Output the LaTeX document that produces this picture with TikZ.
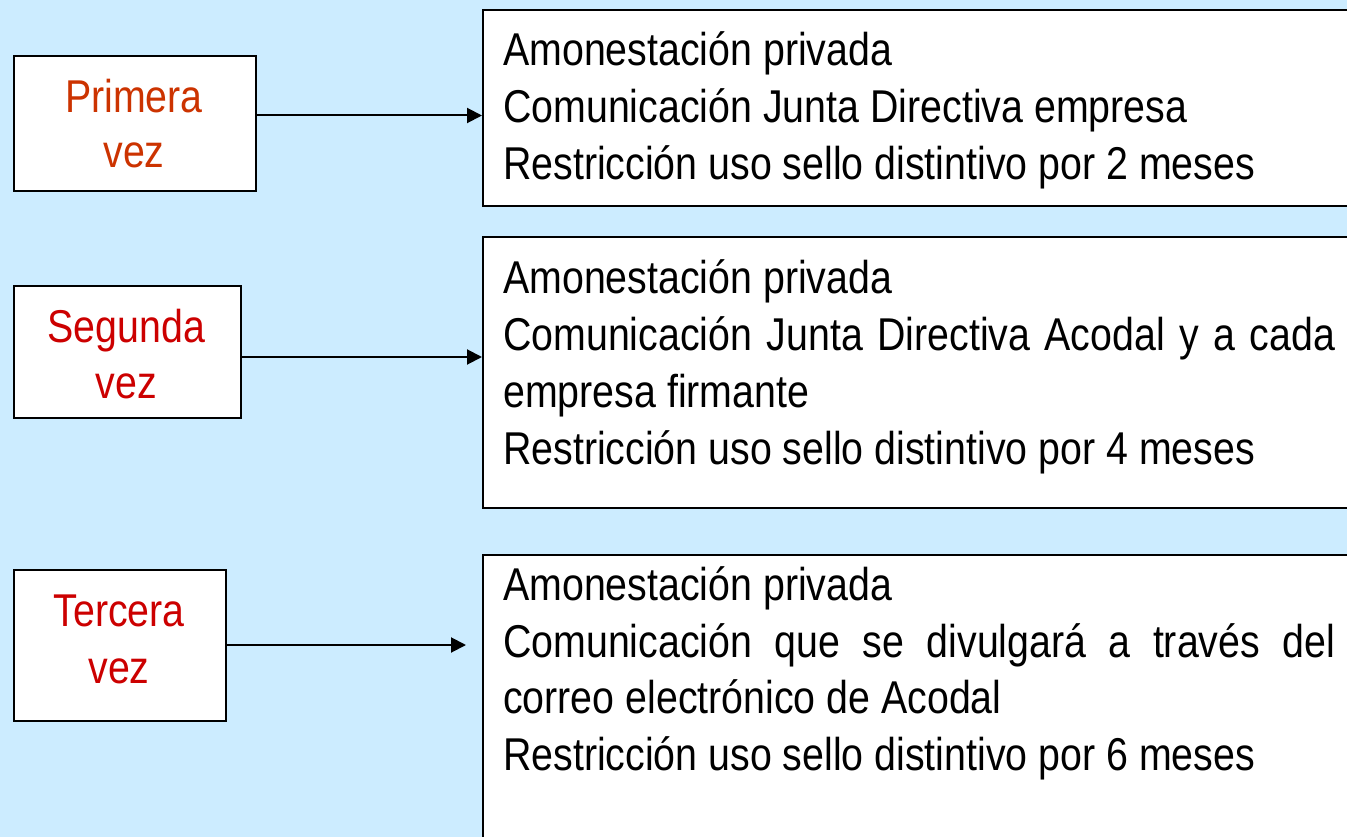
\documentclass[tikz,border=0pt]{standalone}
\usepackage{fontspec}
\setmainfont{Liberation Sans}[FakeStretch=0.855]
\usetikzlibrary{arrows.meta}
\definecolor{bgblue}{HTML}{CCECFF}
\definecolor{firstred}{HTML}{CC3300}
\definecolor{otherred}{HTML}{CC0000}
\tikzset{
  every node/.style={font=\fontsize{46}{57}\selectfont},
  leftbox/.style={draw=black, line width=2pt, fill=white, anchor=north west, inner sep=0pt, align=center},
  rightbox/.style={draw=black, line width=2pt, fill=white, anchor=north west, inner sep=0pt},
  bodytext/.style={anchor=base west, inner sep=0pt, align=left, text=black},
  vlabel/.style={anchor=base, inner sep=0pt},
  link/.style={line width=2pt, -{Triangle[length=15pt,width=15pt]}}
}
\begin{document}
\begin{tikzpicture}[x=1pt,y=-1pt]
\useasboundingbox (0,0) rectangle (1347,837);
\clip (0,0) rectangle (1347,837);
\fill[bgblue] (0,0) rectangle (1347,837);

% left boxes
\node[leftbox, minimum width=242pt, minimum height=135pt] (p) at (13,55) {};
\node[vlabel, text=firstred] (pt) at (134,113) {Primera};
\node[vlabel, text=firstred] (pv) at (134,168) {vez};

\node[leftbox, minimum width=227pt, minimum height=132pt] (s) at (13,285) {};
\node[vlabel, text=otherred] (st) at (126.5,342) {Segunda};
\node[vlabel, text=otherred] (sv) at (126.5,398) {vez};

\node[leftbox, minimum width=212pt, minimum height=151pt] (t) at (13,569) {};
\node[vlabel, text=otherred] (tt) at (119,626) {Tercera};
\node[vlabel, text=otherred] (tv) at (119,683) {vez};

% right boxes
\node[rightbox, minimum width=900pt, minimum height=196pt] (r1) at (482,9) {};
\node[rightbox, minimum width=900pt, minimum height=271pt] (r2) at (482,236) {};
\node[rightbox, minimum width=900pt, minimum height=320pt] (r3) at (482,554) {};

\node[bodytext] (a1) at (503,66) {Amonestación privada};
\node[bodytext] (b1) at (503,123) {Comunicación Junta Directiva empresa};
\node[bodytext] (c1) at (503,180) {Restricción uso sello distintivo por 2 meses};

\node[bodytext] (a2) at (503,293) {Amonestación privada};
\node[bodytext] (b2) at (503,350) {\makebox[832pt][s]{Comunicación Junta Directiva Acodal y a cada}};
\node[bodytext] (c2) at (503,407) {empresa firmante};
\node[bodytext] (d2) at (503,464) {Restricción uso sello distintivo por 4 meses};

\node[bodytext] (a3) at (503,600) {Amonestación privada};
\node[bodytext] (b3) at (503,657) {\makebox[832pt][s]{Comunicación que se divulgará a través del}};
\node[bodytext] (c3) at (503,713) {correo electrónico de Acodal};
\node[bodytext] (d3) at (503,770) {Restricción uso sello distintivo por 6 meses};

% connectors
\coordinate (pe) at (482,115.5);
\coordinate (se) at (482,357);
\coordinate (te) at (466,645);
\draw[link] (p.east |- pe) -- (pe);
\draw[link] (s.east |- se) -- (se);
\draw[link] (t.east |- te) -- (te);
\end{tikzpicture}
\end{document}
